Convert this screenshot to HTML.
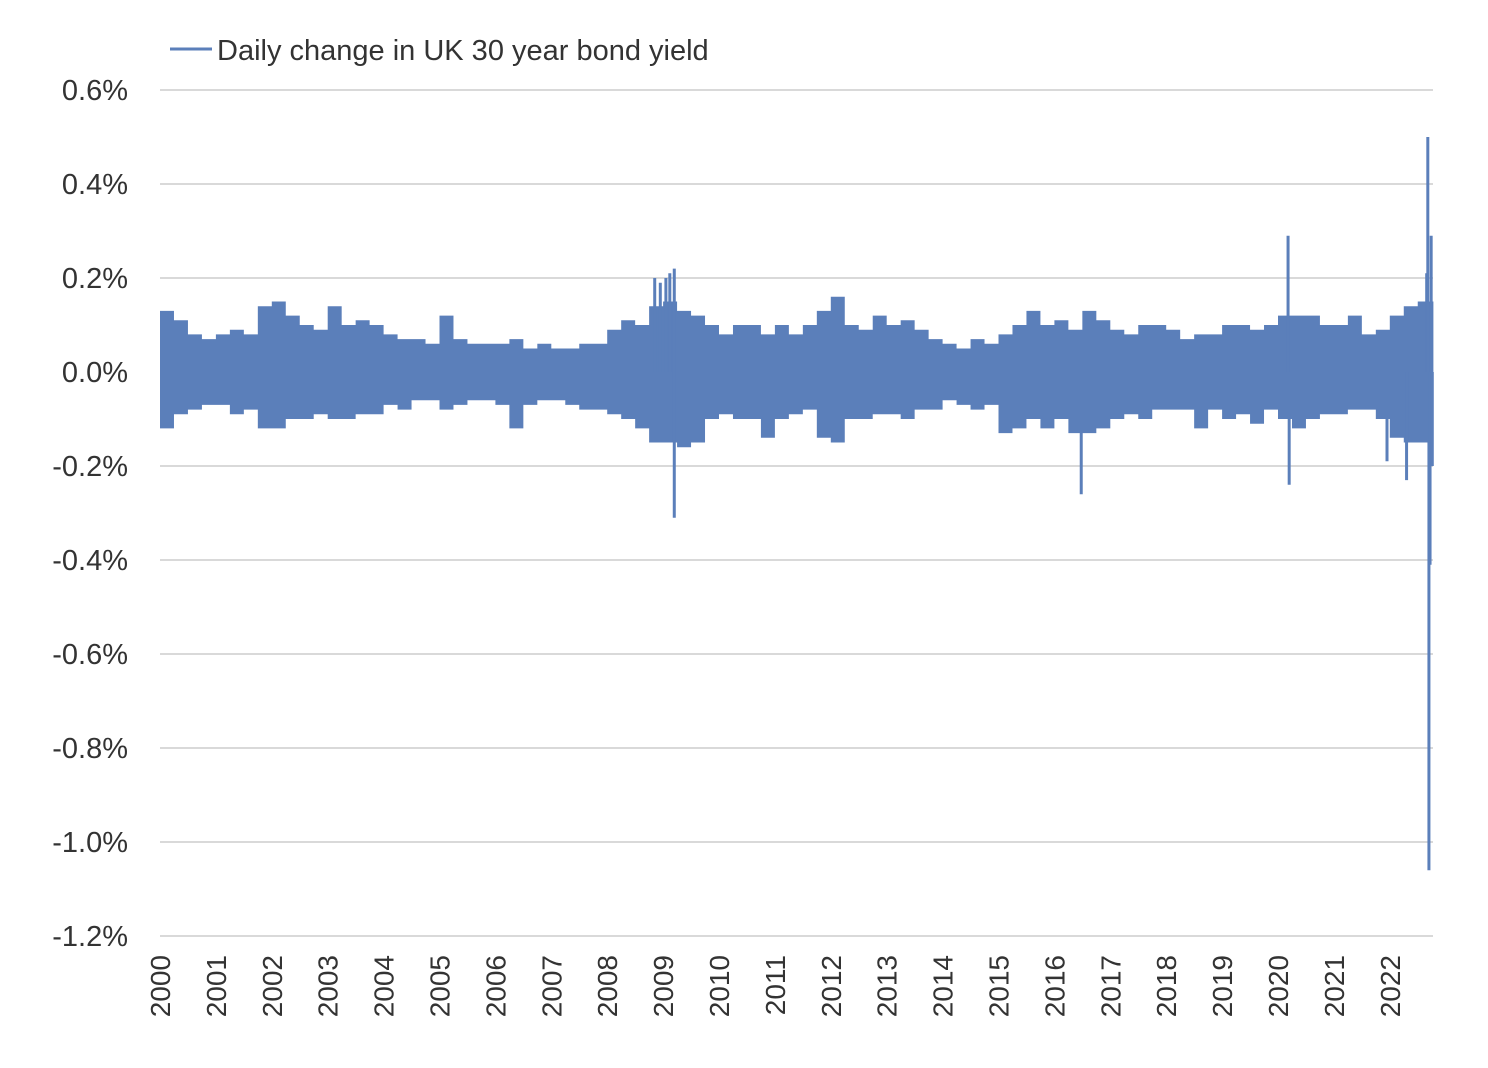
<!DOCTYPE html>
<html><head><meta charset="utf-8">
<style>
body{margin:0;background:#fff;}
svg{display:block;font-family:"Liberation Sans",sans-serif;}
</style></head>
<body>
<svg id="chart" width="1488" height="1068" viewBox="0 0 1488 1068">
<g id="grid"></g>
<g id="ylabels"></g>
<g id="xlabels"></g>
<g id="series"></g>
<g>
<line x1="170" y1="49" x2="212" y2="49" stroke="#5b7fba" stroke-width="3"/>
<text x="217" y="60" font-size="29" fill="#333">Daily change in UK 30 year bond yield</text>
</g>
</svg>
<script>
const yTicks=[0.6,0.4,0.2,0.0,-0.2,-0.4,-0.6,-0.8,-1.0,-1.2];
const years=[2000,2001,2002,2003,2004,2005,2006,2007,2008,2009,2010,2011,2012,2013,2014,2015,2016,2017,2018,2019,2020,2021,2022];
const upper=[.13,.11,.08,.07, .08,.09,.08,.14, .15,.12,.10,.09, .14,.10,.11,.10, .08,.07,.07,.06, .12,.07,.06,.06, .06,.07,.05,.06, .05,.05,.06,.06, .09,.11,.10,.14, .15,.13,.12,.10, .08,.10,.10,.08, .10,.08,.10,.13, .16,.10,.09,.12, .10,.11,.09,.07, .06,.05,.07,.06, .08,.10,.13,.10, .11,.09,.13,.11, .09,.08,.10,.10, .09,.07,.08,.08, .10,.10,.09,.10, .12,.12,.12,.10, .10,.12,.08,.09, .12,.14,.15,.15];
const lower=[-.12,-.09,-.08,-.07, -.07,-.09,-.08,-.12, -.12,-.10,-.10,-.09, -.10,-.10,-.09,-.09, -.07,-.08,-.06,-.06, -.08,-.07,-.06,-.06, -.07,-.12,-.07,-.06, -.06,-.07,-.08,-.08, -.09,-.10,-.12,-.15, -.15,-.16,-.15,-.10, -.09,-.10,-.10,-.14, -.10,-.09,-.08,-.14, -.15,-.10,-.10,-.09, -.09,-.10,-.08,-.08, -.06,-.07,-.08,-.07, -.13,-.12,-.10,-.12, -.10,-.13,-.13,-.12, -.10,-.09,-.10,-.08, -.08,-.08,-.12,-.08, -.10,-.09,-.11,-.08, -.10,-.12,-.10,-.09, -.09,-.08,-.08,-.10, -.14,-.15,-.15,-.15];
const spikeDates=[2008.85,2008.95,2009.05,2009.12,2009.2,2009.2,2016.48,2020.18,2020.2,2021.95,2022.3,2022.66,2022.68,2022.7,2022.72,2022.74,2022.76];
const spikeValues=[0.20,0.19,0.20,0.21,0.22,-0.31,-0.26,0.29,-0.24,-0.19,-0.23,0.21,0.50,-1.06,-0.41,0.29,-0.20];
const endDate=2022.78;
const NS='http://www.w3.org/2000/svg';
const X0=160,X1=1433,YR=55.9;
const xS=t=>X0+(t-2000)*YR;
const yS=v=>372-v*470;
function mk(tag,attrs,parent){const e=document.createElementNS(NS,tag);for(const k in attrs)e.setAttribute(k,attrs[k]);parent.appendChild(e);return e;}
const grid=document.getElementById('grid'),yl=document.getElementById('ylabels'),xl=document.getElementById('xlabels'),ser=document.getElementById('series');
yTicks.forEach(v=>{
 const l=mk('line',{x1:X0,x2:X1,y1:yS(v),y2:yS(v),stroke:'#d9d9d9','stroke-width':2},grid);
 
 
 const t=mk('text',{x:128,y:yS(v)+10,'text-anchor':'end','font-size':29,fill:'#333'},yl);
 
 
 t.textContent=v.toFixed(1)+'%';
});
years.forEach(yr=>{
 const x=xS(yr)+10,y=955;
 const t=mk('text',{x:x,y:y,transform:`rotate(-90 ${x} ${y})`,'text-anchor':'end','font-size':28,fill:'#333'},xl);
 
 
 t.textContent=yr;
});
const qs=i=>xS(Math.min(2000+i/4,endDate));
let pts=[];
upper.forEach((v,i)=>{pts.push(qs(i)+','+yS(v));pts.push(qs(i+1)+','+yS(v));});
for(let i=lower.length-1;i>=0;i--){pts.push(qs(i+1)+','+yS(lower[i]));pts.push(qs(i)+','+yS(lower[i]));}
const band=mk('polygon',{points:pts.join(' '),fill:'#5b7fba'},ser);


spikeDates.forEach((d,i)=>{
 const x=xS(d);
 const l=mk('line',{x1:x,x2:x,y1:yS(0),y2:yS(spikeValues[i]),stroke:'#5b7fba','stroke-width':3},ser);
 
 
});
</script>
</body></html>
